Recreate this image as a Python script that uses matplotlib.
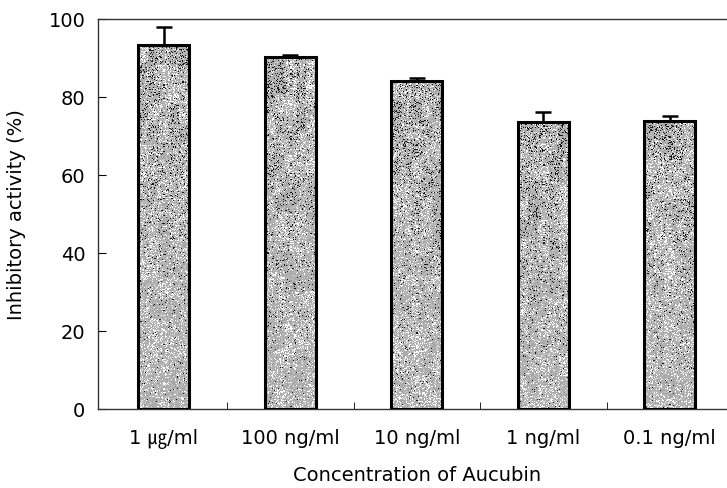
import matplotlib.pyplot as plt
import numpy as np

labels = ['1 ㎍/ml', '100 ng/ml', '10 ng/ml', '1 ng/ml', '0.1 ng/ml']
activity = [93.2, 90.3, 84.1, 73.5, 73.7]
err_up = [4.7, 0.5, 0.7, 2.6, 1.3]

plt.rcParams['font.family'] = ['DejaVu Sans', 'Noto Sans CJK KR']

fig = plt.figure(figsize=(7.27, 4.89), dpi=100)
ax = fig.add_axes([0.1348, 0.1616, 0.877, 0.798])

x = np.arange(len(labels))
bars = ax.bar(x, activity, width=0.4, color='none', edgecolor='black',
              linewidth=2.2, zorder=3)
ax.errorbar(x, activity, yerr=[np.zeros(len(x)), err_up], fmt='none',
            ecolor='black', elinewidth=1.8, capsize=6, capthick=1.8, zorder=2)

# speckled gray fill, like the scanned print
rng = np.random.RandomState(7)
for b in bars:
    rows, cols = int(b.get_height() * 4), 50
    # patchy density of dark specks and white holes
    blk = rng.rand(rows // 20 + 1, 5)
    dens = np.kron(blk, np.ones((20, 10)))[:rows, :cols]
    h = np.linspace(1, 0, rows)[:, None]
    dark_p = 0.02 + 0.22 * dens * h ** 1.5
    white_p = 0.05 + 0.35 * (1 - dens) * 0.8
    tex = 0.62 + 0.14 * rng.rand(rows, cols)
    tex[rng.rand(rows, cols) < white_p] = 1.0
    tex[rng.rand(rows, cols) < dark_p] = 0.1
    im = ax.imshow(tex, cmap='gray', vmin=0, vmax=1, aspect='auto',
                   interpolation='nearest', zorder=1,
                   extent=[b.get_x(), b.get_x() + b.get_width(), 0, b.get_height()])
    im.set_clip_path(b)

ax.set_xlim(-0.52, 4.52)
ax.set_ylim(0, 100)
ax.set_yticks(np.arange(0, 101, 20))
ax.set_xticks(x)
ax.set_xticklabels(labels)
ax.set_xticks(np.arange(0.5, 4.6, 1), minor=True)

ax.tick_params(axis='y', direction='in', length=6, labelsize=14, pad=9)
ax.tick_params(axis='x', which='major', length=0, labelsize=14, pad=14)
ax.tick_params(axis='x', which='minor', direction='in', length=5)

for s in ax.spines.values():
    s.set_color('#333333')
    s.set_linewidth(1.0)

ax.set_xlabel('Concentration of Aucubin', fontsize=14, labelpad=12)
ax.set_ylabel('Inhibitory activity (%)', fontsize=14, labelpad=16)

fig.savefig('out.png', dpi=100)
